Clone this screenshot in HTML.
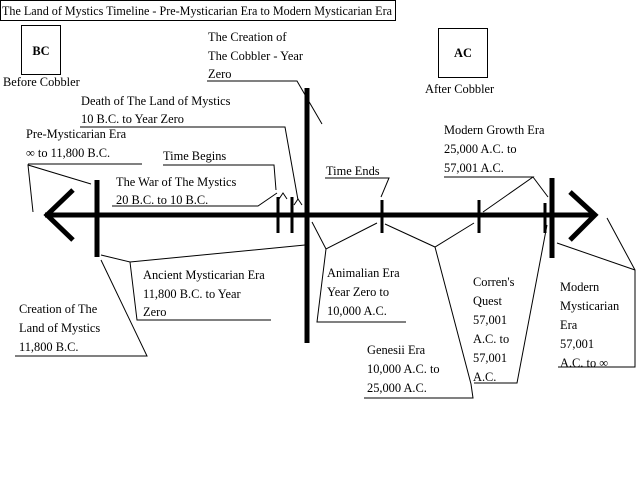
<!DOCTYPE html>
<html><head><meta charset="utf-8"><style>
html,body{margin:0;padding:0;background:#fff;}
svg{display:block;}
text{font-family:"Liberation Serif",serif;font-size:12.4px;fill:#000;}
</style></head><body>
<svg width="640" height="480" viewBox="0 0 640 480" xmlns="http://www.w3.org/2000/svg">
<rect x="0.5" y="0.5" width="395" height="20" fill="none" stroke="#000"/>
<text x="2" y="15" textLength="390" lengthAdjust="spacingAndGlyphs">The Land of Mystics Timeline - Pre-Mysticarian Era to Modern Mysticarian Era</text>
<rect x="21.5" y="25.5" width="39" height="49" fill="none" stroke="#000"/>
<text x="41" y="55" text-anchor="middle" font-weight="bold">BC</text>
<text x="3" y="86">Before Cobbler</text>
<rect x="438.5" y="28.5" width="49" height="49" fill="none" stroke="#000"/>
<text x="463" y="57" text-anchor="middle" font-weight="bold">AC</text>
<text x="425" y="93">After Cobbler</text>

<g stroke="#000" fill="none">
<line x1="45" y1="215" x2="596" y2="215" stroke-width="5"/>
<polyline points="73,190 47,215 73,240" stroke-width="5"/>
<polyline points="570,192 595,215 570,240" stroke-width="5"/>
<line x1="97" y1="180" x2="97" y2="257" stroke-width="5"/>
<line x1="278" y1="197" x2="278" y2="233" stroke-width="3"/>
<line x1="292" y1="197" x2="292" y2="233" stroke-width="3"/>
<line x1="307" y1="88" x2="307" y2="343" stroke-width="5"/>
<line x1="382" y1="200" x2="382" y2="233" stroke-width="3"/>
<line x1="479" y1="200" x2="479" y2="233" stroke-width="3"/>
<line x1="545" y1="203" x2="545" y2="233" stroke-width="3"/>
<line x1="552" y1="178" x2="552" y2="258" stroke-width="5"/>
</g>
<g stroke="#000" stroke-width="1" fill="none">
<polyline points="207,81 297,81 322,124"/>
<polyline points="80,127 285,127 298,200"/>
<polyline points="294,205 298,199 302,205"/>
<polyline points="28,164 142,164"/>
<polyline points="33,212 28,165 91,184"/>
<polyline points="163,165 274,165 276,190"/>
<polyline points="112,206 258,206 277,193"/>
<polyline points="279,199 283,193 287,199"/>
<polyline points="101,255 130,262 305,245"/>
<polyline points="130,262 137,320 271,320"/>
<polyline points="101,260 147,356 15,356"/>
<polyline points="312,222 326,249 377,223"/>
<polyline points="326,249 317,322 406,322"/>
<polyline points="325,178 389,178 381,197"/>
<polyline points="385,224 435,247 474,223"/>
<polyline points="435,247 471,384 473,398 364,398"/>
<polyline points="444,177 533,177 483,212"/>
<polyline points="533,177 548,197"/>
<polyline points="547,225 517,383 474,383"/>
<polyline points="558,367 635,367 635,270 607,218"/>
<polyline points="635,270 557,243"/>
</g>

<text x="208" y="41">The Creation of</text>
<text x="208" y="60">The Cobbler - Year</text>
<text x="208" y="78">Zero</text>
<text x="81" y="105">Death of The Land of Mystics</text>
<text x="81" y="123">10 B.C. to Year Zero</text>
<text x="26" y="138">Pre-Mysticarian Era</text>
<text x="26" y="157">∞ to 11,800 B.C.</text>
<text x="163" y="160">Time Begins</text>
<text x="116" y="186">The War of The Mystics</text>
<text x="116" y="204">20 B.C. to 10 B.C.</text>
<text x="143" y="279">Ancient Mysticarian Era</text>
<text x="143" y="298">11,800 B.C. to Year</text>
<text x="143" y="316">Zero</text>
<text x="19" y="313">Creation of The</text>
<text x="19" y="332">Land of Mystics</text>
<text x="19" y="351">11,800 B.C.</text>
<text x="327" y="277">Animalian Era</text>
<text x="327" y="296">Year Zero to</text>
<text x="327" y="315">10,000 A.C.</text>
<text x="326" y="175">Time Ends</text>
<text x="367" y="354">Genesii Era</text>
<text x="367" y="373">10,000 A.C. to</text>
<text x="367" y="392">25,000 A.C.</text>
<text x="444" y="134">Modern Growth Era</text>
<text x="444" y="153">25,000 A.C. to</text>
<text x="444" y="172">57,001 A.C.</text>
<text x="473" y="286">Corren's</text>
<text x="473" y="305">Quest</text>
<text x="473" y="324">57,001</text>
<text x="473" y="343">A.C. to</text>
<text x="473" y="362">57,001</text>
<text x="473" y="381">A.C.</text>
<text x="560" y="291">Modern</text>
<text x="560" y="310">Mysticarian</text>
<text x="560" y="329">Era</text>
<text x="560" y="348">57,001</text>
<text x="560" y="367">A.C. to ∞</text>
</svg>
</body></html>
